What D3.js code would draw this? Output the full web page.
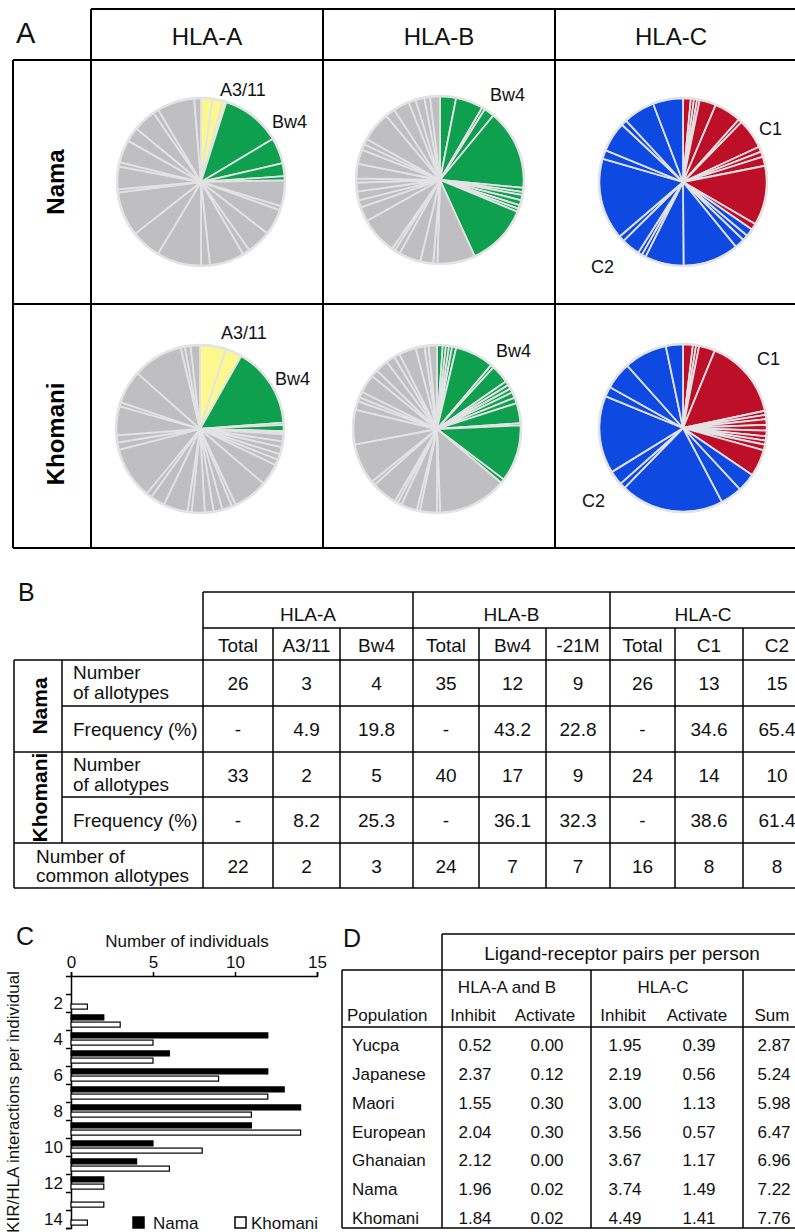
<!DOCTYPE html>
<html>
<head>
<meta charset="utf-8">
<script src="https://cdn.jsdelivr.net/npm/d3@7"></script>
<style>
  body { margin: 0; background: #fff; }
  svg { display: block; font-family: "Liberation Sans", Arial, sans-serif; }
</style>
</head>
<body>
<script>

//~~~~~~~~~~~~~~~~~~DATA

// panel A: allotype frequencies (%), clockwise from 12 o'clock
const namaA_A311 = [2.2, 2.0, 0.7];
const namaA_Bw4 = [11.5, 5.0, 2.5, 0.8];
const namaA_other = [5.0, 0.8, 5.0, 4.7, 1.4, 6.7, 1.7, 8.6, 5.8, 8.6, 0.6, 4.4, 0.8, 4.4, 2.8, 4.4, 1.1, 7.2, 1.3];
const namaB_Bw4 = [3.1, 5.3, 0.6, 2.0, 15.5, 0.8, 0.6, 1.0, 1.0, 0.7, 0.6, 12.0];
const namaB_other = [7.3, 0.8, 2.5, 4.2, 1.1, 0.6, 7.2, 2.8, 1.4, 1.7, 1.7, 0.8, 2.8, 2.8, 1.1, 1.1, 5.8, 1.9, 3.1, 1.4, 1.7, 1.1, 1.9];
const namaC_C1 = [1.5, 0.6, 0.6, 0.5, 3.2, 5.2, 0.7, 5.8, 1.0, 1.0, 1.8, 11.5, 1.2];
const namaC_C2 = [1.5, 1.1, 1.9, 10.8, 7.5, 0.8, 0.8, 3.6, 1.1, 15.8, 1.7, 5.8, 1.1, 6.1, 5.8];
const khomaniA_A311 = [5.0, 3.2];
const khomaniA_Bw4 = [15.6, 0.4, 1.2, 0.3, 0.3];
const khomaniA_other = [1.4, 1.1, 1.4, 1.1, 1.1, 4.2, 6.7, 0.8, 1.9, 1.7, 1.7, 2.5, 0.8, 4.7, 2.8, 1.1, 10.0, 1.4, 1.4, 5.6, 0.8, 6.4, 9.7, 0.8, 1.1, 1.8];
const khomaniB_Bw4 = [1.1, 0.6, 0.6, 0.6, 0.8, 7.5, 0.6, 3.6, 0.8, 0.8, 0.8, 1.1, 1.1, 3.9, 0.4, 11.0, 0.8];
const khomaniB_other = [13.3, 0.6, 3.3, 0.6, 3.1, 0.8, 0.6, 5.0, 0.8, 7.8, 6.7, 1.7, 0.8, 1.1, 3.6, 1.4, 2.5, 1.7, 1.1, 3.3, 1.7, 0.8, 1.6];
const khomaniC_C1 = [1.9, 0.6, 0.6, 3.1, 15.5, 0.8, 0.8, 1.1, 1.1, 1.1, 0.8, 0.8, 1.1, 5.2];
const khomaniC_C2 = [3.6, 4.2, 20.0, 1.1, 2.8, 15.0, 1.9, 5.3, 8.3, 3.3];

const loci = ['HLA-A', 'HLA-B', 'HLA-C'];
const populationsA = ['Nama', 'Khomani'];

// panel B
const subHeaders = ['Total', 'A3/11', 'Bw4', 'Total', 'Bw4', '-21M', 'Total', 'C1', 'C2'];
const namaCount = [26, 3, 4, 35, 12, 9, 26, 13, 15];
const namaFreq = [null, 4.9, 19.8, null, 43.2, 22.8, null, 34.6, 65.4];
const khomaniCount = [33, 2, 5, 40, 17, 9, 24, 14, 10];
const khomaniFreq = [null, 8.2, 25.3, null, 36.1, 32.3, null, 38.6, 61.4];
const commonCount = [22, 2, 3, 24, 7, 7, 16, 8, 8];

// panel C
const interactions = [1, 2, 3, 4, 5, 6, 7, 8, 9, 10, 11, 12, 13, 14];
const namaIndividuals = [0, 0, 2, 12, 6, 12, 13, 14, 11, 5, 4, 2, 0, 0];
const khomaniIndividuals = [0, 1, 3, 5, 5, 9, 12, 11, 14, 8, 6, 2, 2, 1];

// panel D
const populationsD = ['Yucpa', 'Japanese', 'Maori', 'European', 'Ghanaian', 'Nama', 'Khomani'];
const abInhibit = [0.52, 2.37, 1.55, 2.04, 2.12, 1.96, 1.84];
const abActivate = [0.00, 0.12, 0.30, 0.30, 0.00, 0.02, 0.02];
const cInhibit = [1.95, 2.19, 3.00, 3.56, 3.67, 3.74, 4.49];
const cActivate = [0.39, 0.56, 1.13, 0.57, 1.17, 1.49, 1.41];
const pairSum = [2.87, 5.24, 5.98, 6.47, 6.96, 7.22, 7.76];

//~~~~~~~~~~~~~~~~~~SETUP

let width = 795;
let height = 1232;

let grey = '#bfbfc1';
let yellow = '#fbf98e';
let green = '#0fa04f';
let red = '#be0f29';
let blue = '#0e49e1';
let sep = '#e3e3e5';

let svg = d3.select('body').append('svg')
  .attr('width', width)
  .attr('height', height);

//draws a straight black rule
function rule(x1, y1, x2, y2, w) {
  svg.append('line')
    .attr('x1', x1).attr('y1', y1).attr('x2', x2).attr('y2', y2)
    .attr('stroke', '#000').attr('stroke-width', w);
}

function label(x, y, txt, size, anchor, weight) {
  return svg.append('text')
    .attr('x', x).attr('y', y)
    .attr('font-size', size)
    .attr('text-anchor', anchor || 'start')
    .attr('font-weight', weight || 'normal')
    .attr('fill', '#111')
    .text(txt);
}

//~~~~~~~~~~~~~~~~~~PANEL A

label(16, 43, 'A', 29);

// grid
rule(91, 9, 800, 9, 2);
rule(13, 60, 800, 60, 2);
rule(13, 304, 800, 304, 2);
rule(13, 548, 800, 548, 2);
rule(13, 60, 13, 548, 2);
[91, 323, 555].forEach(function(x) { rule(x, 9, x, 548, 2); });

let colCenters = [207, 439, 671];
loci.forEach(function(l, i) { label(colCenters[i], 45, l, 24, 'middle'); });

let rowCenters = [182, 434];
populationsA.forEach(function(p, i) {
  svg.append('text')
    .attr('transform', 'translate(64,' + rowCenters[i] + ') rotate(-90)')
    .attr('text-anchor', 'middle')
    .attr('font-size', 24)
    .attr('font-weight', 'bold')
    .text(p);
});

let radius = 84;

let pies = [
  { cx: 201, cy: 182, groups: [[namaA_A311, yellow], [namaA_Bw4, green], [namaA_other, grey]],
    labels: [['A3/11', 19, -86], ['Bw4', 71, -54]] },
  { cx: 440, cy: 180, groups: [[namaB_Bw4, green], [namaB_other, grey]],
    labels: [['Bw4', 50, -79]] },
  { cx: 683, cy: 182, groups: [[namaC_C1, red], [namaC_C2, blue]],
    labels: [['C1', 76, -47], ['C2', -92, 91]] },
  { cx: 200, cy: 429, groups: [[khomaniA_A311, yellow], [khomaniA_Bw4, green], [khomaniA_other, grey]],
    labels: [['A3/11', 21, -90], ['Bw4', 75, -44]] },
  { cx: 437, cy: 429, groups: [[khomaniB_Bw4, green], [khomaniB_other, grey]],
    labels: [['Bw4', 59, -72]] },
  { cx: 683, cy: 428, groups: [[khomaniC_C1, red], [khomaniC_C2, blue]],
    labels: [['C1', 74, -63], ['C2', -101, 79]] }
];

let pie = d3.pie()
  .value(function(d) { return d.value; })
  .sort(null);

let arc = d3.arc()
  .innerRadius(0)
  .outerRadius(radius);

pies.forEach(function(p) {
  let slices = [];
  p.groups.forEach(function(grp) {
    grp[0].forEach(function(v) { slices.push({ value: v, color: grp[1] }); });
  });

  let g = svg.append('g')
    .attr('transform', 'translate(' + p.cx + ',' + p.cy + ')');

  g.selectAll('path')
    .data(pie(slices))
    .enter()
    .append('path')
    .attr('d', arc)
    .attr('fill', function(d) { return d.data.color; })
    .attr('stroke', sep)
    .attr('stroke-width', 1.8)
    .attr('stroke-linejoin', 'round');

  //light rim round the pie
  g.append('circle')
    .attr('r', radius)
    .attr('fill', 'none')
    .attr('stroke', sep)
    .attr('stroke-width', 2.5);

  g.selectAll('.lab')
    .data(p.labels)
    .enter()
    .append('text')
    .attr('class', 'lab')
    .attr('x', function(d) { return d[1]; })
    .attr('y', function(d) { return d[2]; })
    .attr('font-size', 18)
    .attr('fill', '#111')
    .text(function(d) { return d[0]; });
});

//~~~~~~~~~~~~~~~~~~PANEL B

label(18, 601, 'B', 25);

let colX = [203, 273, 340, 413, 479, 546, 610, 675, 743, 811];
let tRows = [660, 706, 752, 797, 843, 888];

rule(203, 592, 800, 592, 1.5);
rule(203, 628, 800, 628, 1.5);
tRows.forEach(function(y, i) {
  let x0 = (i === 1 || i === 3) ? 62 : 14;
  rule(x0, y, 800, y, 1.5);
});
rule(14, 660, 14, 888, 1.5);
rule(62, 660, 62, 843, 1.5);
[0, 3, 6].forEach(function(i) { rule(colX[i], 592, colX[i], 888, 1.5); });
[1, 2, 4, 5, 7, 8].forEach(function(i) { rule(colX[i], 628, colX[i], 888, 1.5); });

loci.forEach(function(l, i) {
  label(i === 2 ? 703 : (colX[i * 3] + colX[i * 3 + 3]) / 2, 621, l, 19, 'middle');
});
subHeaders.forEach(function(h, i) {
  label((colX[i] + colX[i + 1]) / 2, 652, h, 19, 'middle');
});

let tableRows = [namaCount, namaFreq, khomaniCount, khomaniFreq, commonCount];
tableRows.forEach(function(vals, r) {
  let yc = (tRows[r] + tRows[r + 1]) / 2 + 7;
  vals.forEach(function(v, i) {
    label((colX[i] + colX[i + 1]) / 2, yc, v === null ? '-' : (r % 2 === 1 ? v.toFixed(1) : v), 19, 'middle');
  });
});

// row headings
[0, 2].forEach(function(r) {
  label(73, tRows[r] + 19, 'Number', 19);
  label(73, tRows[r] + 39, 'of allotypes', 19);
  label(73, tRows[r + 1] + 30, 'Frequency (%)', 19);
});
label(36, 863, 'Number of', 19);
label(36, 882, 'common allotypes', 19);

populationsA.forEach(function(p, i) {
  svg.append('text')
    .attr('transform', 'translate(47,' + (tRows[i * 2] + tRows[i * 2 + 2]) / 2 + ') rotate(-90)')
    .attr('text-anchor', 'middle')
    .attr('font-size', 21)
    .attr('font-weight', 'bold')
    .text(p);
});

//~~~~~~~~~~~~~~~~~~PANEL C

label(16, 945, 'C', 25);

let x = d3.scaleLinear()
  .domain([0, 15])
  .range([71, 317]);

let y = d3.scaleLinear()
  .domain([0.5, 14.5])
  .range([976, 1228]);

let sub = d3.scaleBand()
  .domain(['Nama', 'Khomani'])
  .range([0, y(1.5) - y(0.5)])
  .paddingInner(0.3)
  .paddingOuter(0.4);

let xAxis = svg.append('g')
  .attr('transform', 'translate(0,' + y(0.5) + ')')
  .call(d3.axisTop(x).tickValues([0, 5, 10, 15]).tickSize(4).tickPadding(4));

let yTicks = svg.append('g')
  .attr('transform', 'translate(' + x(0) + ',0)')
  .call(d3.axisLeft(y).tickValues(d3.range(1.5, 15, 1)).tickSize(5).tickFormat(''));

let yLabels = svg.append('g')
  .attr('transform', 'translate(' + x(0) + ',0)')
  .call(d3.axisLeft(y).tickValues(interactions.filter(function(d) { return d % 2 === 0; })).tickSize(0).tickPadding(8));
yLabels.select('.domain').remove();

[xAxis, yTicks, yLabels].forEach(function(a) {
  a.selectAll('text').attr('font-size', 17).attr('font-family', null).attr('fill', '#111');
  a.selectAll('line, path').attr('stroke', '#000').attr('stroke-width', 1.5);
});

let bars = [
  { name: 'Nama', vals: namaIndividuals, fill: '#000' },
  { name: 'Khomani', vals: khomaniIndividuals, fill: '#fff' }
];

bars.forEach(function(s) {
  svg.append('g').selectAll('rect')
    .data(interactions.filter(function(d, i) { return s.vals[i] > 0; }))
    .enter()
    .append('rect')
    .attr('x', x(0))
    .attr('y', function(d) { return y(d - 0.5) + sub(s.name); })
    .attr('width', function(d) { return x(s.vals[d - 1]) - x(0); })
    .attr('height', sub.bandwidth())
    .attr('fill', s.fill)
    .attr('stroke', '#000')
    .attr('stroke-width', 1.2);
});

label(187, 947, 'Number of individuals', 17, 'middle');

svg.append('text')
  .attr('transform', 'translate(19,' + ((y(0.5) + y(14.5)) / 2) + ') rotate(-90)')
  .attr('text-anchor', 'middle')
  .attr('font-size', 17)
  .attr('fill', '#111')
  .text('KIR/HLA interactions per individual');

// legend
let legend = svg.selectAll('.legend')
  .data(bars)
  .enter()
  .append('g')
  .attr('class', 'legend')
  .attr('transform', function(d, i) { return 'translate(' + (133 + i * 102) + ',1217)'; });

legend.append('rect')
  .attr('width', 11)
  .attr('height', 11)
  .attr('fill', function(d) { return d.fill; })
  .attr('stroke', '#000')
  .attr('stroke-width', 1.5);

legend.append('text')
  .attr('x', function(d, i) { return i === 0 ? 20 : 16; })
  .attr('y', 12)
  .attr('font-size', 17)
  .attr('fill', '#111')
  .text(function(d) { return d.name; });

//~~~~~~~~~~~~~~~~~~PANEL D

label(343, 947, 'D', 25);

rule(442, 934, 800, 934, 1.5);
rule(342, 970, 800, 970, 1.5);
rule(342, 1027, 800, 1027, 1.5);
rule(342, 1228, 800, 1228, 1.5);
rule(442, 934, 442, 1228, 1.5);
[342, 591, 743].forEach(function(xx) { rule(xx, 970, xx, 1228, 1.5); });

label(622, 960, 'Ligand-receptor pairs per person', 19, 'middle');
label(507, 993, 'HLA-A and B', 17, 'middle');
label(663, 993, 'HLA-C', 17, 'middle');
label(347, 1021, 'Population', 17);

let dCols = [473, 545, 623, 697, 772];
['Inhibit', 'Activate', 'Inhibit', 'Activate', 'Sum'].forEach(function(h, i) {
  label(dCols[i], 1021, h, 17, 'middle');
});

let fmt = d3.format('.2f');
let rowY = d3.scalePoint()
  .domain(populationsD)
  .range([1051, 1224]);

populationsD.forEach(function(p, i) {
  label(352, rowY(p), p, 17);
  [abInhibit, abActivate, cInhibit, cActivate, pairSum].forEach(function(col, c) {
    label(dCols[c] + 2, rowY(p), fmt(col[i]), 17, 'middle');
  });
});

</script>
</body>
</html>
